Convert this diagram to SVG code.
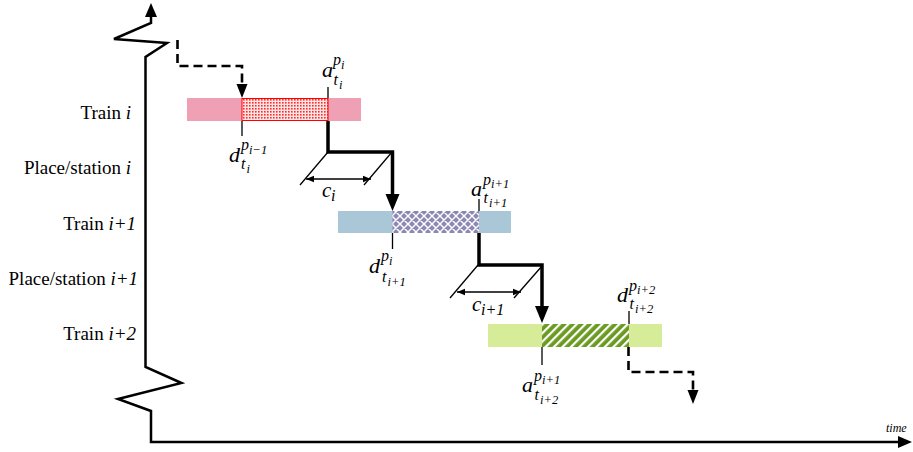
<svg xmlns="http://www.w3.org/2000/svg" width="913" height="452" viewBox="0 0 913 452">
<style>
.lbl{font-family:"Liberation Serif","Times New Roman",serif;font-size:19px;fill:#000;text-anchor:end}
.it{font-style:italic}
.m{font-family:"Liberation Serif","Times New Roman",serif;font-style:italic;font-size:22px;fill:#000}
.s{font-family:"Liberation Serif","Times New Roman",serif;font-style:italic;font-size:16px;fill:#000}
.ss{font-family:"Liberation Serif","Times New Roman",serif;font-style:italic;font-size:12.5px;fill:#000}
.ax{fill:none;stroke:#000;stroke-width:2.5;stroke-linejoin:miter}
.dash{fill:none;stroke:#000;stroke-width:2.6;stroke-dasharray:9 5}
.thick{fill:none;stroke:#000;stroke-width:3.5}
.thin{fill:none;stroke:#000;stroke-width:1.3}
.head{fill:#000;stroke:none}
</style>
<defs>
<pattern id="dots" width="3" height="3" patternUnits="userSpaceOnUse"><rect width="3" height="3" fill="#ffe6e6"/><rect width="1.6" height="1.6" fill="#ff2a2a"/></pattern>
<pattern id="weave" width="8" height="8" patternUnits="userSpaceOnUse"><rect width="8" height="8" fill="#8d87b4"/><path d="M0,0 L8,8 M-2,6 L2,10 M6,-2 L10,2 M0,8 L8,0 M-2,2 L2,-2 M6,10 L10,6" stroke="#fff" stroke-width="1.4"/></pattern>
<pattern id="stripes" width="6" height="6" patternUnits="userSpaceOnUse" patternTransform="rotate(45)"><rect width="6" height="6" fill="#6a9a1f"/><rect width="2.2" height="6" fill="#fff"/></pattern>
<marker id="sa" viewBox="0 0 10 10" refX="10" refY="5" markerWidth="8" markerHeight="8" markerUnits="userSpaceOnUse" orient="auto-start-reverse"><path d="M0,1 L10,5 L0,9 z" fill="#000"/></marker>
</defs>

<g id="axes">
<polyline class="ax" points="151,16 151,23 114,39 167,43 145.5,57 145.5,367 181.5,383 118,399 151,411 151,442 900,442"/>
<polygon class="head" points="151,3 145,17 157,17"/>
<polygon class="head" points="912,442 898,436 898,448"/>
<text x="886" y="432" style="font-family:'Liberation Serif','Times New Roman',serif;font-style:italic;font-size:12px">time</text>
</g>

<g id="labels">
<text class="lbl" x="131" y="119">Train <tspan class="it">i</tspan></text>
<text class="lbl" x="131" y="174">Place/station <tspan class="it">i</tspan></text>
<text class="lbl" x="136" y="230">Train <tspan class="it">i+1</tspan></text>
<text class="lbl" x="138" y="285">Place/station <tspan class="it">i+1</tspan></text>
<text class="lbl" x="136" y="340">Train <tspan class="it">i+2</tspan></text>
</g>

<g id="train-i">
<rect x="187" y="98" width="174" height="23" fill="#f0a0b4"/>
<rect x="242" y="98.5" width="86" height="22" fill="url(#dots)" stroke="#ff0000" stroke-width="1"/>
</g>
<g id="train-i1">
<rect x="338" y="211" width="173" height="22" fill="#a9c7d6"/>
<rect x="392.5" y="211" width="86.5" height="22" fill="url(#weave)"/>
</g>
<g id="train-i2">
<rect x="488" y="324" width="174" height="23" fill="#d6ec98"/>
<rect x="542" y="324" width="87" height="23" fill="url(#stripes)"/>
</g>

<g id="connectors">
<path class="dash" d="M177.5,40 V66 H242 V85"/>
<polygon class="head" points="242,98 236.5,84 247.5,84"/>
<path class="dash" d="M628.5,347 V372 H693 V390"/>
<polygon class="head" points="693,404 687.5,390 698.5,390"/>
<path class="thick" d="M328,121 V152 H392.5 V196"/>
<polygon class="head" points="392.5,211 385.5,194 399.5,194"/>
<path class="thick" d="M479,233 V265 H542 V309"/>
<polygon class="head" points="542,323 535,306 549,306"/>
<line class="thin" x1="242" y1="121" x2="242" y2="136"/>
<line class="thin" x1="328" y1="87" x2="328" y2="98"/>
<line class="thin" x1="392.5" y1="233" x2="392.5" y2="249"/>
<line class="thin" x1="479" y1="199" x2="479" y2="211"/>
<line class="thin" x1="542" y1="347" x2="542" y2="365"/>
<line class="thin" x1="629" y1="311" x2="629" y2="324"/>
<line class="thin" x1="328" y1="152" x2="300" y2="185"/>
<line class="thin" x1="392" y1="152" x2="364" y2="185"/>
<line class="thin" x1="306" y1="179" x2="371" y2="179" marker-start="url(#sa)" marker-end="url(#sa)"/>
<line class="thin" x1="478" y1="265" x2="450" y2="298"/>
<line class="thin" x1="542" y1="266" x2="514" y2="298"/>
<line class="thin" x1="457" y1="292" x2="521" y2="292" marker-start="url(#sa)" marker-end="url(#sa)"/>
</g>

<g id="math">
<g><text class="m" x="322" y="77">a</text><text class="s" x="333" y="65">p</text><text class="ss" x="341" y="69">i</text><text class="s" x="333.5" y="85">t</text><text class="ss" x="339" y="89">i</text></g>
<g><text class="m" x="229" y="162">d</text><text class="s" x="241" y="150">p</text><text class="ss" x="249" y="154">i−1</text><text class="s" x="241" y="169">t</text><text class="ss" x="246.5" y="173">i</text></g>
<g><text class="m" x="369" y="273">d</text><text class="s" x="381" y="261">p</text><text class="ss" x="389" y="265">i</text><text class="s" x="382" y="282">t</text><text class="ss" x="387.5" y="286">i+1</text></g>
<g><text class="m" x="471" y="196">a</text><text class="s" x="483" y="185">p</text><text class="ss" x="491" y="188">i+1</text><text class="s" x="483.5" y="203">t</text><text class="ss" x="489" y="207">i+1</text></g>
<g><text class="m" x="322" y="197" style="font-size:21px">c</text><text class="s" x="331" y="201">i</text></g>
<g><text class="m" x="472" y="311" style="font-size:21px">c</text><text class="s" x="481" y="315">i+1</text></g>
<g><text class="m" x="617" y="302">d</text><text class="s" x="629" y="291">p</text><text class="ss" x="637" y="294">i+2</text><text class="s" x="629.5" y="309">t</text><text class="ss" x="635" y="313">i+2</text></g>
<g><text class="m" x="522" y="392">a</text><text class="s" x="534" y="381">p</text><text class="ss" x="542" y="384">i+1</text><text class="s" x="534.5" y="400">t</text><text class="ss" x="540" y="404">i+2</text></g>
</g>
</svg>
